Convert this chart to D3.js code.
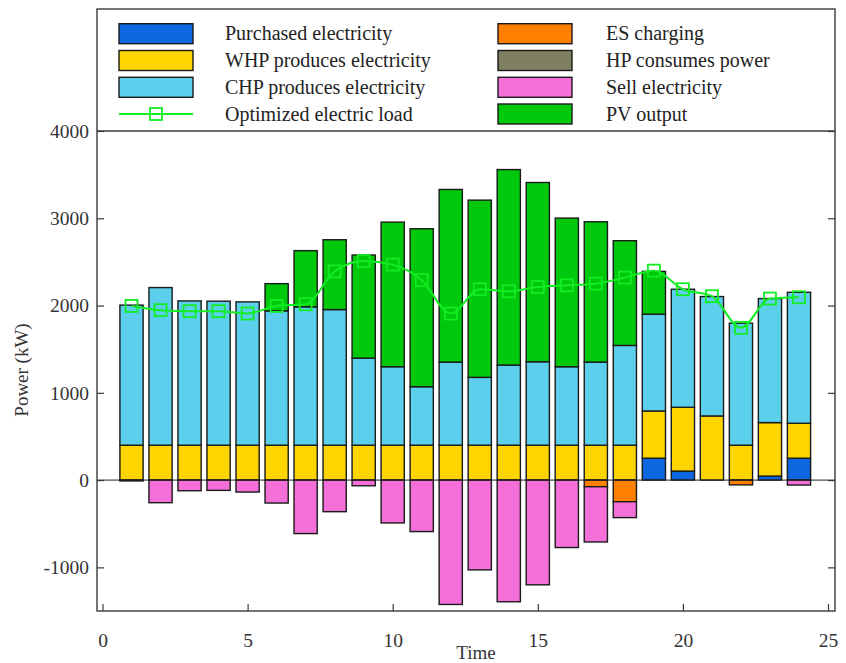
<!DOCTYPE html>
<html>
<head>
<meta charset="utf-8">
<script src="https://cdn.jsdelivr.net/npm/d3@7"></script>
<style>
  body { margin: 0; background: #fff; }
  svg { display: block; font-family: "Liberation Serif", "Times New Roman", serif; }
</style>
</head>
<body>
<svg id="chart" width="846" height="663"></svg>
<script>
// hours 1..24
const hours = d3.range(1, 25);

const purchased = [0, 0, 0, 0, 0, 0, 0, 0, 0, 0, 0, 0, 0, 0, 0, 0, 0, 0, 251, 103, 0, 0, 46, 251];
const whp = [400, 400, 400, 400, 400, 400, 400, 400, 400, 400, 400, 400, 400, 400, 400, 400, 400, 400, 541, 731, 735, 400, 613, 400];
const chp = [1605, 1806, 1653, 1650, 1642, 1539, 1585, 1554, 998, 899, 670, 952, 777, 918, 956, 899, 952, 1143, 1109, 1353, 1368, 1398, 1421, 1501];
const pv = [0, 0, 0, 0, 0, 312, 644, 800, 1181, 1657, 1810, 1978, 2031, 2240, 2054, 1703, 1608, 1200, 491, 0, 0, 0, 0, 0];
const esCharging = [0, 0, 0, 0, 0, 0, 0, 0, 0, 0, 0, 0, 0, 0, 0, 0, -76, -248, 0, 0, 0, -55, 0, 0];
const hpConsumes = [0, 0, 0, 0, 0, 0, 0, 0, 0, 0, 0, 0, 0, 0, 0, 0, 0, 0, 0, 0, 0, 0, 0, 0];
const sell = [-10, -259, -122, -118, -137, -263, -613, -362, -65, -491, -590, -1425, -1029, -1394, -1200, -773, -633, -182, 0, 0, 0, 0, 0, -57];
const load = [1996, 1947, 1935, 1935, 1909, 1996, 2015, 2392, 2510, 2469, 2290, 1909, 2187, 2164, 2213, 2232, 2251, 2320, 2400, 2187, 2107, 1745, 2080, 2095];

const xTicks = [0, 5, 10, 15, 20, 25];
const yTicks = [-1000, 0, 1000, 2000, 3000, 4000];

const series = [
  { key: 'purchased', name: 'Purchased electricity', values: purchased, color: '#0e66e0' },
  { key: 'whp', name: 'WHP produces electricity', values: whp, color: '#ffd500' },
  { key: 'chp', name: 'CHP produces electricity', values: chp, color: '#5bcfeb' },
  { key: 'pv', name: 'PV output', values: pv, color: '#00c80c' },
  { key: 'es', name: 'ES charging', values: esCharging, color: '#ff8000' },
  { key: 'hp', name: 'HP consumes power', values: hpConsumes, color: '#7f7f62' },
  { key: 'sell', name: 'Sell electricity', values: sell, color: '#f46fd8' }
];
const lineColor = '#12ee22';

const box = { left: 97, right: 835, top: 9, legendBottom: 131, bottom: 611 };

const svg = d3.select('#chart');

const x = d3.scaleLinear().domain([0, 25]).range([102.5, 828]);
const y = d3.scaleLinear().domain([-1500, 4000]).range([box.bottom, box.legendBottom]);

const rows = hours.map((h, i) => {
  const r = { hour: h };
  series.forEach(s => { r[s.key] = s.values[i]; });
  return r;
});

const stack = d3.stack()
  .keys(series.map(s => s.key))
  .offset(d3.stackOffsetDiverging);
const stacked = stack(rows);

const barW = x(0.8) - x(0);

// bars
const g = svg.append('g');
stacked.forEach((layer, li) => {
  g.selectAll(null)
    .data(layer.filter(d => d[1] !== d[0]))
    .enter().append('rect')
    .attr('x', d => x(d.data.hour) - barW / 2)
    .attr('y', d => y(Math.max(d[0], d[1])))
    .attr('width', barW)
    .attr('height', d => Math.abs(y(d[0]) - y(d[1])))
    .attr('fill', series[li].color)
    .attr('stroke', '#1a1a1a')
    .attr('stroke-width', 1.4);
});

// zero line
svg.append('line')
  .attr('x1', box.left).attr('x2', box.right)
  .attr('y1', y(0)).attr('y2', y(0))
  .attr('stroke', '#222').attr('stroke-width', 1);

// optimized load line
const line = d3.line()
  .x((d, i) => x(hours[i]))
  .y(d => y(d))
  .curve(d3.curveMonotoneX);

svg.append('path')
  .datum(load)
  .attr('fill', 'none')
  .attr('stroke', lineColor)
  .attr('stroke-width', 2)
  .attr('d', line);

svg.selectAll('.mk')
  .data(load)
  .enter().append('rect')
  .attr('class', 'mk')
  .attr('x', (d, i) => x(hours[i]) - 6)
  .attr('y', d => y(d) - 6)
  .attr('width', 12)
  .attr('height', 12)
  .attr('fill', 'none')
  .attr('stroke', lineColor)
  .attr('stroke-width', 1.8);

// axes (inward ticks, mirrored on the right)
const axisColor = '#3a3a3a';
const yAxis = d3.axisLeft(y).tickValues(yTicks).tickSize(-7).tickPadding(8).tickFormat(d => String(d));
const yAxisR = d3.axisRight(y).tickValues(yTicks).tickSize(-7).tickFormat('');
const xAxis = d3.axisBottom(x).tickValues(xTicks).tickSize(-7).tickPadding(22);

function styleAxis(sel) {
  sel.select('.domain').remove();
  sel.selectAll('line').attr('stroke', axisColor).attr('stroke-width', 1.2);
  sel.selectAll('text').attr('fill', '#333').style('font-size', '19.5px')
    .style('font-family', '"Liberation Serif", "Times New Roman", serif');
}

svg.append('g').attr('transform', `translate(${box.left},0)`).call(yAxis).call(styleAxis);
svg.append('g').attr('transform', `translate(${box.right},0)`).call(yAxisR).call(styleAxis);
svg.append('g').attr('transform', `translate(0,${box.bottom})`).call(xAxis).call(styleAxis);

// frame
svg.append('rect')
  .attr('x', box.left).attr('y', box.top)
  .attr('width', box.right - box.left).attr('height', box.bottom - box.top)
  .attr('fill', 'none').attr('stroke', axisColor).attr('stroke-width', 1.4);
svg.append('line')
  .attr('x1', box.left).attr('x2', box.right)
  .attr('y1', box.legendBottom).attr('y2', box.legendBottom)
  .attr('stroke', axisColor).attr('stroke-width', 1.4);

// axis titles
svg.append('text')
  .attr('x', 476).attr('y', 659)
  .attr('text-anchor', 'middle')
  .attr('fill', '#333').style('font-size', '19px')
  .text('Time');
svg.append('text')
  .attr('transform', 'translate(28,370) rotate(-90)')
  .attr('text-anchor', 'middle')
  .attr('fill', '#333').style('font-size', '19px')
  .text('Power (kW)');

// legend
const legendLeft = ['purchased', 'whp', 'chp', 'load'];
const legendRight = ['es', 'hp', 'sell', 'pv'];
const rowY = [33.7, 60.5, 87.3, 114];
const lg = svg.append('g');

function legendItem(key, col, row) {
  const sx = col === 0 ? 119 : 498;
  const tx = col === 0 ? 225 : 606;
  const cy = rowY[row];
  if (key === 'load') {
    lg.append('line')
      .attr('x1', sx).attr('x2', sx + 74).attr('y1', cy).attr('y2', cy)
      .attr('stroke', lineColor).attr('stroke-width', 2);
    lg.append('rect')
      .attr('x', sx + 37 - 6).attr('y', cy - 6).attr('width', 12).attr('height', 12)
      .attr('fill', 'none').attr('stroke', lineColor).attr('stroke-width', 1.8);
    lg.append('text').attr('x', tx).attr('y', cy + 6.5)
      .attr('fill', '#222').style('font-size', '20px').text('Optimized electric load');
    return;
  }
  const s = series.find(d => d.key === key);
  lg.append('rect')
    .attr('x', sx).attr('y', cy - 10).attr('width', 74).attr('height', 20)
    .attr('fill', s.color).attr('stroke', '#1a1a1a').attr('stroke-width', 1.4);
  lg.append('text').attr('x', tx).attr('y', cy + 6.5)
    .attr('fill', '#222').style('font-size', '20px').text(s.name);
}

legendLeft.forEach((k, i) => legendItem(k, 0, i));
legendRight.forEach((k, i) => legendItem(k, 1, i));
</script>
</body>
</html>
